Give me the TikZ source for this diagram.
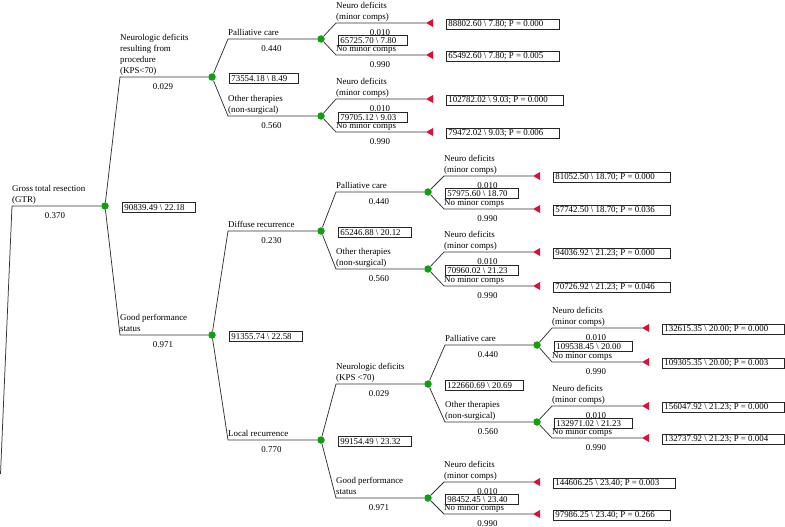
\documentclass[tikz,border=0pt]{standalone}
\usepackage{fontspec}
\setmainfont{Liberation Serif}
\usetikzlibrary{calc}
\definecolor{cgreen}{RGB}{18,158,18}
\definecolor{tred}{RGB}{220,16,56}
\tikzset{
  every node/.style={font=\fontsize{8.9}{11}\selectfont},
  edge/.style={draw=black!80, line width=0.75pt},
  chance/.style={circle, fill=cgreen, minimum size=7.5pt, inner sep=0pt},
  brlab/.style={anchor=south west, align=left, inner sep=0pt, text depth=0pt},
  prob/.style={anchor=base, inner sep=0pt},
  valbox/.style={draw=black!85, line width=0.7pt, anchor=west, inner xsep=0pt, inner ysep=0pt, minimum height=10pt},
  termfill/.style={fill=tred}
}
% parent, child, elbow x, y, child x, label, prob
\newcommand{\Branch}[7]{%
  \coordinate (#2-e) at (#3,#4);
  \node[chance] (#2) at (#5,#4) {};
  \draw[edge] (#1) -- (#2-e) -- (#2);
  \node[brlab] (#2-l) at ([yshift=3.5pt]#2-e) {#6};
  \node[prob] (#2-p) at ($(#2-e)!0.5!(#2)+(-3,12.5)$) {#7};
}
% parent, name, elbow x, y, tip x, label, prob, box text
\newcommand{\Term}[8]{%
  \coordinate (#2-e) at (#3,#4);
  \coordinate (#2) at (#5,#4);
  \draw[edge] (#1) -- (#2-e) -- (#2);
  \fill[termfill] (#2) -- ++(7,-4) -- ++(0,8) -- cycle;
  \node[valbox] (#2-b) at ([shift={(20,1)}]#2) {\rule{2pt}{0pt}#8\rule{16pt}{0pt}};
  \node[brlab] (#2-l) at ([yshift=3.5pt]#2-e) {#6};
  \node[prob] (#2-p) at ($(#2-e)!0.5!(#2)+(-1,12.5)$) {#7};
}
% name, chance node, text
\newcommand{\ValBox}[3]{%
  \node[valbox] (#1) at ([shift={(17,1.5)}]#2) {\rule{2pt}{0pt}#3\rule{11pt}{0pt}};
}
\begin{document}
\begin{tikzpicture}[x=1pt,y=-1pt]
\useasboundingbox (0,0) rectangle (785,527);
\node[chance] (c0) at (105,206) {};
\coordinate (root-s) at (0.5,474);
\coordinate (root-e) at (12,206);
\draw[edge] (root-s) -- (root-e) -- (c0);
\node[brlab] (root-l) at ([yshift=3.5pt]root-e) {Gross total resection\\(GTR)};
\node[prob] (root-p) at (55,218.5) {0.370};
\ValBox{c0-v}{c0}{90839.49 \textbackslash{} 22.18}

\Branch{c0}{c1}{120}{77}{212}{Neurologic deficits\\resulting from\\procedure\\(KPS<70)}{0.029}
\Branch{c0}{c2}{120}{335}{212}{Good performance\\status}{0.971}

\Branch{c1}{c11}{228}{39}{321}{Palliative care}{0.440}
\Branch{c1}{c12}{228}{116}{321}{Other therapies\\(non-surgical)}{0.560}
\ValBox{c1-v}{c1}{73554.18 \textbackslash{} 8.49}

\Term{c11}{t1}{336}{23}{426}{Neuro deficits\\(minor comps)}{0.010}{88802.60 \textbackslash{} 7.80; P = 0.000}
\Term{c11}{t2}{336}{55}{426}{No minor comps}{0.990}{65492.60 \textbackslash{} 7.80; P = 0.005}
\ValBox{c11-v}{c11}{65725.70 \textbackslash{} 7.80}
\Term{c12}{t3}{336}{99}{426}{Neuro deficits\\(minor comps)}{0.010}{102782.02 \textbackslash{} 9.03; P = 0.000}
\Term{c12}{t4}{336}{132}{426}{No minor comps}{0.990}{79472.02 \textbackslash{} 9.03; P = 0.006}
\ValBox{c12-v}{c12}{79705.12 \textbackslash{} 9.03}

\Branch{c2}{c21}{228}{231}{321}{Diffuse recurrence}{0.230}
\Branch{c2}{c22}{228}{440}{321}{Local recurrence}{0.770}
\ValBox{c2-v}{c2}{91355.74 \textbackslash{} 22.58}

\Branch{c21}{c211}{336}{192}{428}{Palliative care}{0.440}
\Branch{c21}{c212}{336}{269}{428}{Other therapies\\(non-surgical)}{0.560}
\ValBox{c21-v}{c21}{65246.88 \textbackslash{} 20.12}
\Term{c211}{t5}{444}{176}{533}{Neuro deficits\\(minor comps)}{0.010}{81052.50 \textbackslash{} 18.70; P = 0.000}
\Term{c211}{t6}{444}{209}{533}{No minor comps}{0.990}{57742.50 \textbackslash{} 18.70; P = 0.036}
\ValBox{c211-v}{c211}{57975.60 \textbackslash{} 18.70}
\Term{c212}{t7}{444}{252}{533}{Neuro deficits\\(minor comps)}{0.010}{94036.92 \textbackslash{} 21.23; P = 0.000}
\Term{c212}{t8}{444}{286}{533}{No minor comps}{0.990}{70726.92 \textbackslash{} 21.23; P = 0.046}
\ValBox{c212-v}{c212}{70960.02 \textbackslash{} 21.23}

\Branch{c22}{c221}{336}{384}{428}{Neurologic deficits\\(KPS <70)}{0.029}
\Branch{c22}{c222}{336}{498}{428}{Good performance\\status}{0.971}
\ValBox{c22-v}{c22}{99154.49 \textbackslash{} 23.32}
\Branch{c221}{c2211}{445}{345}{537}{Palliative care}{0.440}
\Branch{c221}{c2212}{445}{422}{537}{Other therapies\\(non-surgical)}{0.560}
\ValBox{c221-v}{c221}{122660.69 \textbackslash{} 20.69}
\Term{c2211}{t9}{552}{328}{642}{Neuro deficits\\(minor comps)}{0.010}{132615.35 \textbackslash{} 20.00; P = 0.000}
\Term{c2211}{t10}{552}{362}{642}{No minor comps}{0.990}{109305.35 \textbackslash{} 20.00; P = 0.003}
\ValBox{c2211-v}{c2211}{109538.45 \textbackslash{} 20.00}
\Term{c2212}{t11}{552}{406}{642}{Neuro deficits\\(minor comps)}{0.010}{156047.92 \textbackslash{} 21.23; P = 0.000}
\Term{c2212}{t12}{552}{438}{642}{No minor comps}{0.990}{132737.92 \textbackslash{} 21.23; P = 0.004}
\ValBox{c2212-v}{c2212}{132971.02 \textbackslash{} 21.23}
\Term{c222}{t13}{444}{482}{533}{Neuro deficits\\(minor comps)}{0.010}{144606.25 \textbackslash{} 23.40; P = 0.003}
\Term{c222}{t14}{444}{514}{533}{No minor comps}{0.990}{97986.25 \textbackslash{} 23.40; P = 0.266}
\ValBox{c222-v}{c222}{98452.45 \textbackslash{} 23.40}
\end{tikzpicture}
\end{document}
